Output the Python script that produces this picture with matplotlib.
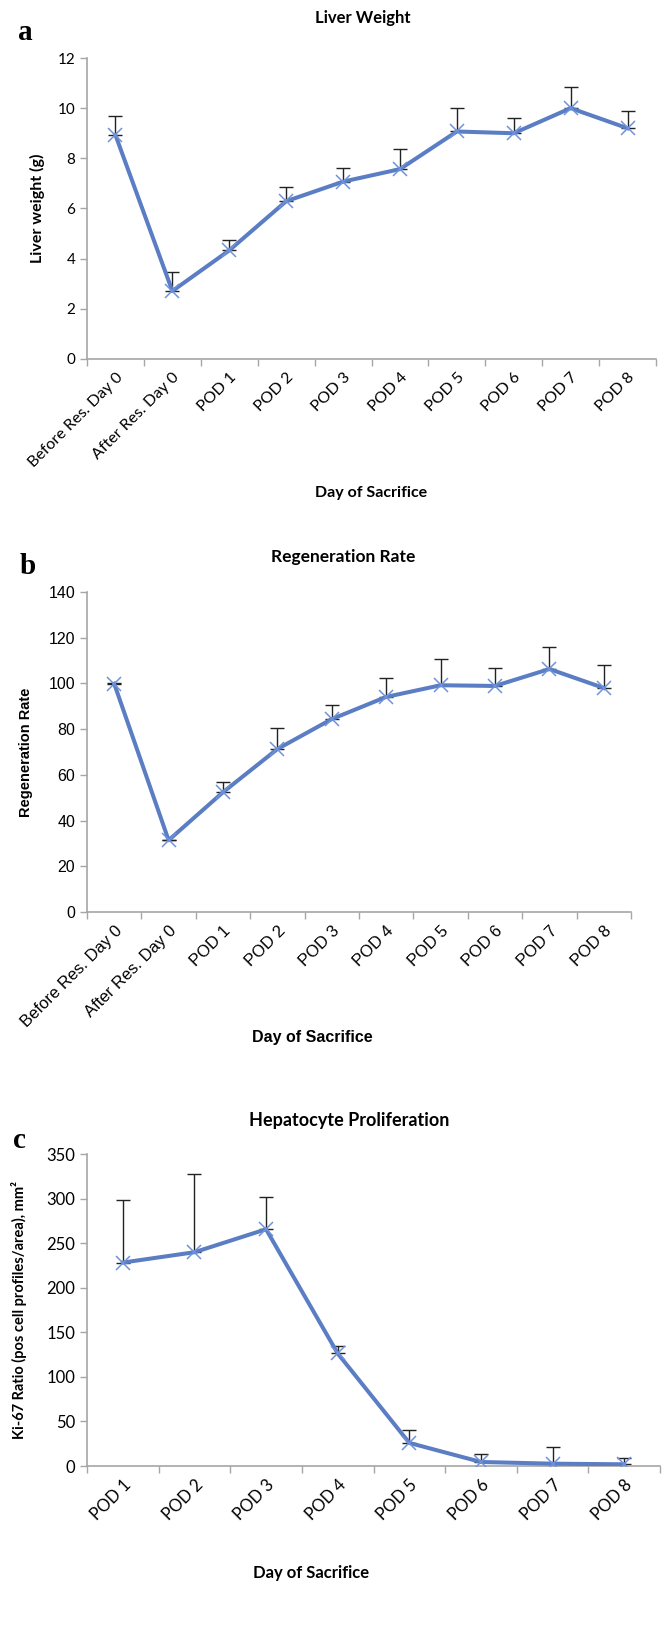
import numpy as np
import matplotlib
matplotlib.use("Agg")
import matplotlib.pyplot as plt

# panel a: liver weight
cats_ab = ["Before Res. Day 0", "After Res. Day 0", "POD 1", "POD 2", "POD 3",
           "POD 4", "POD 5", "POD 6", "POD 7", "POD 8"]
liver_wt = [8.93, 2.71, 4.33, 6.29, 7.07, 7.57, 9.07, 9.0, 10.0, 9.2]
liver_err = [0.74, 0.76, 0.40, 0.58, 0.56, 0.80, 0.93, 0.61, 0.84, 0.68]

# panel b: regeneration rate
regen = [99.9, 31.4, 52.4, 71.3, 84.4, 94.1, 99.2, 98.9, 106.3, 98.0]
regen_err = [0.3, 0.3, 4.3, 9.1, 6.0, 8.4, 11.6, 7.8, 9.5, 10.0]

# panel c: Ki-67
cats_c = ["POD 1", "POD 2", "POD 3", "POD 4", "POD 5", "POD 6", "POD 7", "POD 8"]
ki67 = [228.2, 239.8, 265.6, 126.3, 25.9, 4.5, 2.6, 1.9]
ki67_err = [70.4, 88.0, 36.4, 8.2, 14.9, 8.6, 18.8, 7.5]

W, H = 666, 1626
LINE = "#5A7DC4"
MARK = "#6F93DB"
GRAY = "#A6A6A6"
CAL = ["Lato", "DejaVu Sans"]
ARI = ["Liberation Sans", "DejaVu Sans"]

fig = plt.figure(figsize=(W / 100, H / 100), dpi=100)


def box(l, t, r, b):
    return [l / W, 1 - b / H, (r - l) / W, (b - t) / H]


def panel(rect, cats, vals, errs, ymax, ystep, font, tsize, xrot_size):
    ax = fig.add_axes(rect)
    n = len(cats)
    x = np.arange(n) + 0.5
    ax.errorbar(x, vals, yerr=[np.zeros(n), errs], fmt="none", ecolor="#222222",
                elinewidth=1.0, capsize=5, capthick=1.0, zorder=2)
    ax.plot(x, vals, color=LINE, lw=2.9, marker="x", ms=10, mec=MARK, mew=1.1,
            zorder=3)
    ax.set_xlim(0, n)
    ax.set_ylim(0, ymax)
    ax.set_yticks(np.arange(0, ymax + ystep / 2, ystep))
    ax.set_xticks(np.arange(n + 1))
    ax.set_xticklabels([])
    ax.set_xticks(x, minor=True)
    ax.set_xticklabels(cats, minor=True, rotation=45, ha="right",
                       rotation_mode="anchor", family=font, fontsize=xrot_size)
    ax.tick_params(axis="x", which="minor", length=0, pad=8)
    ax.tick_params(axis="both", which="major", length=5, color=GRAY, width=1)
    for lab in ax.get_yticklabels():
        lab.set_family(font)
        lab.set_fontsize(tsize)
    for s in ["top", "right"]:
        ax.spines[s].set_visible(False)
    for s in ["left", "bottom"]:
        ax.spines[s].set_color(GRAY)
        ax.spines[s].set_linewidth(1.2)
    return ax


# a
ax = panel(box(87, 58, 656, 359), cats_ab, liver_wt, liver_err, 12, 2, CAL, 11, 11.5)
ax.set_ylabel("Liver weight (g)", family=CAL, fontsize=11.5, fontweight="bold", va="center")
ax.yaxis.set_label_coords((37 - 87) / 569, 0.5)
fig.text(363 / W, 1 - 18 / H, "Liver Weight", family=CAL, fontsize=12,
         fontweight="bold", ha="center", va="center")
fig.text(371 / W, 1 - 493 / H, "Day of Sacrifice", family=CAL, fontsize=11.5,
         fontweight="bold", ha="center", va="center")
fig.text(25 / W, 1 - 33 / H, "a", family="Liberation Serif", fontsize=21,
         fontweight="bold", ha="center", va="center")

# b
ax = panel(box(87, 592, 631, 912), cats_ab, regen, regen_err, 140, 20, ARI, 11.5, 12)
ax.set_ylabel("Regeneration Rate", family=ARI, fontsize=10.5, fontweight="bold", va="center")
ax.yaxis.set_label_coords((26 - 87) / 544, 0.5)
fig.text(343 / W, 1 - 557 / H, "Regeneration Rate", family=CAL, fontsize=12.5,
         fontweight="bold", ha="center", va="center")
fig.text(312 / W, 1 - 1037 / H, "Day of Sacrifice", family=ARI, fontsize=11.5,
         fontweight="bold", ha="center", va="center")
fig.text(28 / W, 1 - 566 / H, "b", family="Liberation Serif", fontsize=21,
         fontweight="bold", ha="center", va="center")

# c
ax = panel(box(87, 1154, 660, 1466), cats_c, ki67, ki67_err, 350, 50, CAL, 12, 12)
ax.set_ylabel("Ki-67 Ratio (pos cell profiles/area), mm²", family=CAL, fontsize=10.5,
              fontweight="bold", va="center")
ax.yaxis.set_label_coords((19 - 87) / 573, 0.5)
fig.text(349 / W, 1 - 1120 / H, "Hepatocyte Proliferation", family=CAL, fontsize=13,
         fontweight="bold", ha="center", va="center")
fig.text(311 / W, 1 - 1573 / H, "Day of Sacrifice", family=CAL, fontsize=12,
         fontweight="bold", ha="center", va="center")
fig.text(19 / W, 1 - 1140 / H, "c", family="Liberation Serif", fontsize=21,
         fontweight="bold", ha="center", va="center")

fig.savefig("out.png", dpi=100)
